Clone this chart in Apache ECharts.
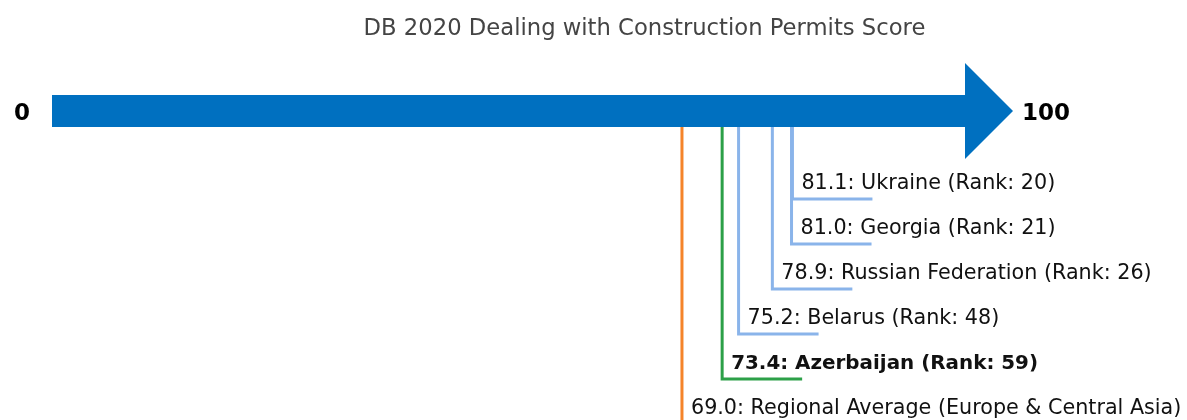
<!DOCTYPE html>
<html><head><meta charset="utf-8">
<script src="https://cdn.jsdelivr.net/npm/echarts@6/dist/echarts.min.js"></script>
<style>html,body{margin:0;padding:0;background:#fff}#c{width:1187px;height:420px}</style>
</head><body><div id="c"></div>
<script>
// ---- data ----
const chartTitle = 'DB 2020 Dealing with Construction Permits Score';
const names = ['Ukraine', 'Georgia', 'Russian Federation', 'Belarus', 'Azerbaijan', 'Regional Average (Europe & Central Asia)'];
const scores = [81.1, 81.0, 78.9, 75.2, 73.4, 69.0];
const ranks = [20, 21, 26, 48, 59, null];
const kinds = ['peer', 'peer', 'peer', 'peer', 'focus', 'avg'];
const scaleEnds = [0, 100];
const scaleLabels = ['0', '100'];

// ---- styles / layout ----
const COLORS = { peer: '#8AB4EA', focus: '#2CA048', avg: '#F5842A', arrow: '#0070C0' };
const FONT = 'DejaVu Sans';
const BAR_ROW = -1.9556;   // row position of arrow centre (row units)
const BAR_HALF = 16;        // px
const HEAD_LEN = 48, HEAD_HALF = 48;
const TICK_LEN = 80;

const chart = echarts.init(document.getElementById('c'), null, { renderer: 'canvas' });

const rows = names.map((n, i) => [scores[i], i]);

const option = {
  animation: false,
  backgroundColor: '#fff',
  grid: { left: 52, right: 222, top: 0, bottom: 0 },
  xAxis: { type: 'value', min: 0, max: 100, show: false },
  yAxis: { type: 'value', min: -199 / 45, max: -199 / 45 + 420 / 45, inverse: true, show: false },
  graphic: [{
    type: 'text', x: 644.5, y: 29,
    style: { text: chartTitle, fontFamily: FONT, fontSize: 22.7, fill: '#444', textAlign: 'center', textVerticalAlign: 'middle' }
  }],
  series: [
    {
      type: 'custom', coordinateSystem: 'cartesian2d', clip: false, z: 2,
      data: rows,
      renderItem(params, api) {
        const i = params.dataIndex;
        const p = api.coord([api.value(0), api.value(1)]);
        const barY = api.coord([0, BAR_ROW])[1];
        const color = COLORS[kinds[i]];
        const isFocus = kinds[i] === 'focus';
        const label = scores[i].toFixed(1) + ': ' + names[i] + (ranks[i] != null ? ' (Rank: ' + ranks[i] + ')' : '');
        return {
          type: 'group',
          children: [
            { type: 'polyline', shape: { points: [[p[0], barY], [p[0], p[1]], [p[0] + TICK_LEN, p[1]]] },
              style: { stroke: color, lineWidth: 3, fill: null } },
            { type: 'text', x: p[0] + 9, y: p[1] - 15,
              style: { text: label, fontFamily: FONT, fontSize: isFocus ? 19.9 : 20.7, fontWeight: isFocus ? 'bold' : 'normal', fill: '#111',
                       textAlign: 'left', textVerticalAlign: 'middle' } }
          ]
        };
      }
    },
    {
      type: 'custom', coordinateSystem: 'cartesian2d', clip: false, z: 5,
      data: [[scaleEnds[0], scaleEnds[1]]],
      renderItem(params, api) {
        const a = api.coord([api.value(0), BAR_ROW]);
        const b = api.coord([api.value(1), BAR_ROW]);
        const y = a[1];
        return {
          type: 'group',
          children: [
            { type: 'polygon', shape: { points: [
                [a[0], y - BAR_HALF], [b[0], y - BAR_HALF], [b[0], y - HEAD_HALF],
                [b[0] + HEAD_LEN, y], [b[0], y + HEAD_HALF], [b[0], y + BAR_HALF], [a[0], y + BAR_HALF]] },
              style: { fill: COLORS.arrow } },
            { type: 'text', x: a[0] - 22, y: y + 3,
              style: { text: scaleLabels[0], fontFamily: FONT, fontSize: 23, fontWeight: 'bold', fill: '#000', textAlign: 'right', textVerticalAlign: 'middle' } },
            { type: 'text', x: b[0] + HEAD_LEN + 9, y: y + 3,
              style: { text: scaleLabels[1], fontFamily: FONT, fontSize: 23, fontWeight: 'bold', fill: '#000', textAlign: 'left', textVerticalAlign: 'middle' } }
          ]
        };
      }
    }
  ]
};
chart.setOption(option);
</script>
</body></html>
